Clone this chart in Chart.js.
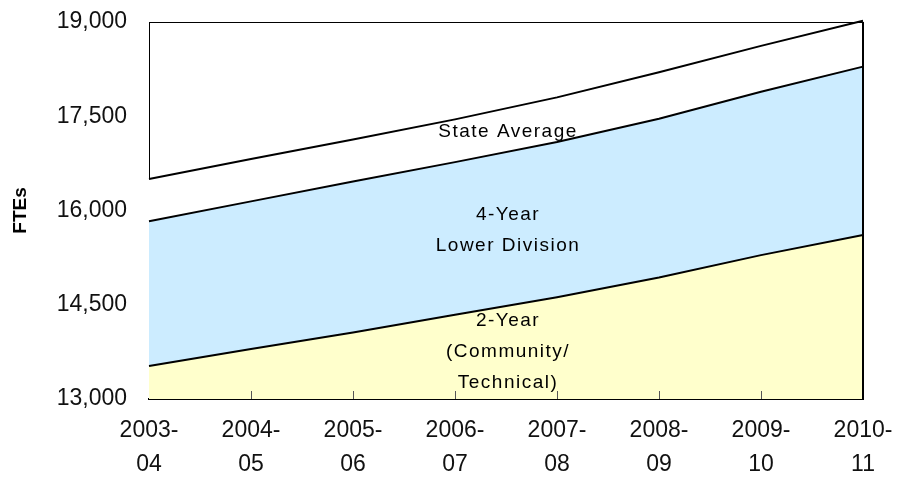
<!DOCTYPE html>
<html lang="en">
<head>
    <meta charset="UTF-8">
    <title>FTEs by Sector</title>
    <style>
        body {
            margin: 0;
            background-color: #fff;
        }
        #wrap {
            width: 898px;
            height: 477px;
        }
    </style>
    <script src="https://cdn.jsdelivr.net/npm/chart.js"></script>
</head>
<body>
    <div id="wrap">
        <canvas id="fteChart" width="898" height="477"></canvas>
    </div>
    <script>
        // academic years along the bottom (two lines each)
        const years = [
            ['2003-', '04'], ['2004-', '05'], ['2005-', '06'], ['2006-', '07'],
            ['2007-', '08'], ['2008-', '09'], ['2009-', '10'], ['2010-', '11']
        ];
        const stateAverage = [16500, 16820, 17130, 17450, 17800, 18200, 18620, 19020];
        const fourYearLower = [15830, 16145, 16460, 16770, 17090, 17460, 17890, 18290];
        const twoYear = [13525, 13795, 14060, 14340, 14620, 14935, 15290, 15610];
        const yTicks = [13000, 14500, 16000, 17500, 19000];

        // text written inside the bands: lines, x index, y value of first line
        const bandLabels = [
            { lines: ['State Average'], at: 3.52, y: 17250 },
            { lines: ['4-Year', 'Lower Division'], at: 3.52, y: 15940 },
            { lines: ['2-Year', '(Community/', 'Technical)'], at: 3.52, y: 14240 }
        ];

        const frame = {
            id: 'frame',
            beforeInit(chart) {
                chart.ctx.letterSpacing = '1.5px';
            },
            afterDatasetsDraw(chart) {
                const { ctx, chartArea: a, scales } = chart;
                ctx.save();
                // small tick marks standing up from the bottom axis
                ctx.strokeStyle = '#555';
                ctx.lineWidth = 1;
                for (let i = 1; i < years.length - 1; i++) {
                    const x = Math.round(scales.x.getPixelForValue(i)) + 0.5;
                    ctx.beginPath();
                    ctx.moveTo(x, a.bottom);
                    ctx.lineTo(x, a.bottom - 8);
                    ctx.stroke();
                }
                // top and right edges of the plot box
                ctx.strokeStyle = '#000';
                ctx.lineWidth = 1;
                ctx.beginPath();
                ctx.moveTo(a.left, a.top + 0.5);
                ctx.lineTo(a.right, a.top + 0.5);
                ctx.stroke();
                ctx.lineWidth = 2;
                ctx.beginPath();
                ctx.moveTo(a.right, a.top);
                ctx.lineTo(a.right, a.bottom);
                ctx.stroke();

                // band labels
                ctx.fillStyle = '#000';
                ctx.font = '19px Arial, "Liberation Sans", sans-serif';
                ctx.letterSpacing = '1.5px';
                ctx.textAlign = 'center';
                ctx.textBaseline = 'middle';
                bandLabels.forEach(b => {
                    const x = scales.x.getPixelForValue(b.at);
                    const y0 = scales.y.getPixelForValue(b.y);
                    b.lines.forEach((t, i) => ctx.fillText(t, x, y0 + i * 31));
                });
                ctx.restore();
            }
        };

        new Chart(document.getElementById('fteChart'), {
            type: 'line',
            data: {
                labels: years,
                datasets: [
                    {
                        label: '2-Year (Community/Technical)',
                        data: twoYear,
                        fill: 'start',
                        backgroundColor: '#FFFFCC'
                    },
                    {
                        label: '4-Year Lower Division',
                        data: fourYearLower,
                        fill: '-1',
                        backgroundColor: '#CCECFF'
                    },
                    {
                        label: 'State Average',
                        data: stateAverage,
                        fill: '-1',
                        backgroundColor: '#FFFFFF'
                    }
                ].map(d => Object.assign(d, {
                    borderColor: '#000',
                    borderWidth: 2,
                    pointRadius: 0,
                    tension: 0,
                    clip: 4
                }))
            },
            options: {
                responsive: false,
                animation: false,
                layout: { padding: { top: 22, right: 35, left: 0, bottom: 0 } },
                plugins: {
                    legend: { display: false },
                    tooltip: { enabled: false }
                },
                scales: {
                    x: {
                        offset: false,
                        grid: { display: false, drawTicks: false },
                        border: { display: true, color: '#000', width: 2 },
                        ticks: {
                            color: '#111',
                            padding: 15,
                            maxRotation: 0,
                            autoSkip: false,
                            font: { family: 'Arial, "Liberation Sans", sans-serif', size: 23, lineHeight: 1.48 }
                        },
                        afterFit(scale) {
                            scale.height = 78;
                            scale.paddingLeft = 0;
                            scale.paddingRight = 0;
                        }
                    },
                    y: {
                        min: 13000,
                        max: 19000,
                        afterBuildTicks(scale) {
                            scale.ticks = yTicks.map(v => ({ value: v }));
                        },
                        grid: { display: false, drawTicks: false },
                        border: { display: true, color: '#000', width: 1 },
                        ticks: {
                            color: '#111',
                            padding: 22,
                            font: { family: 'Arial, "Liberation Sans", sans-serif', size: 23 },
                            callback: v => v.toLocaleString('en-US')
                        },
                        title: {
                            display: true,
                            text: 'FTEs',
                            color: '#000',
                            padding: { top: 9, bottom: 0 },
                            font: { family: 'Arial, "Liberation Sans", sans-serif', size: 19, weight: 'bold', lineHeight: 1.2 }
                        },
                        afterFit(scale) {
                            scale.width = 149;
                            scale.paddingTop = 0;
                            scale.paddingBottom = 0;
                        }
                    }
                }
            },
            plugins: [frame]
        });
    </script>
</body>
</html>
